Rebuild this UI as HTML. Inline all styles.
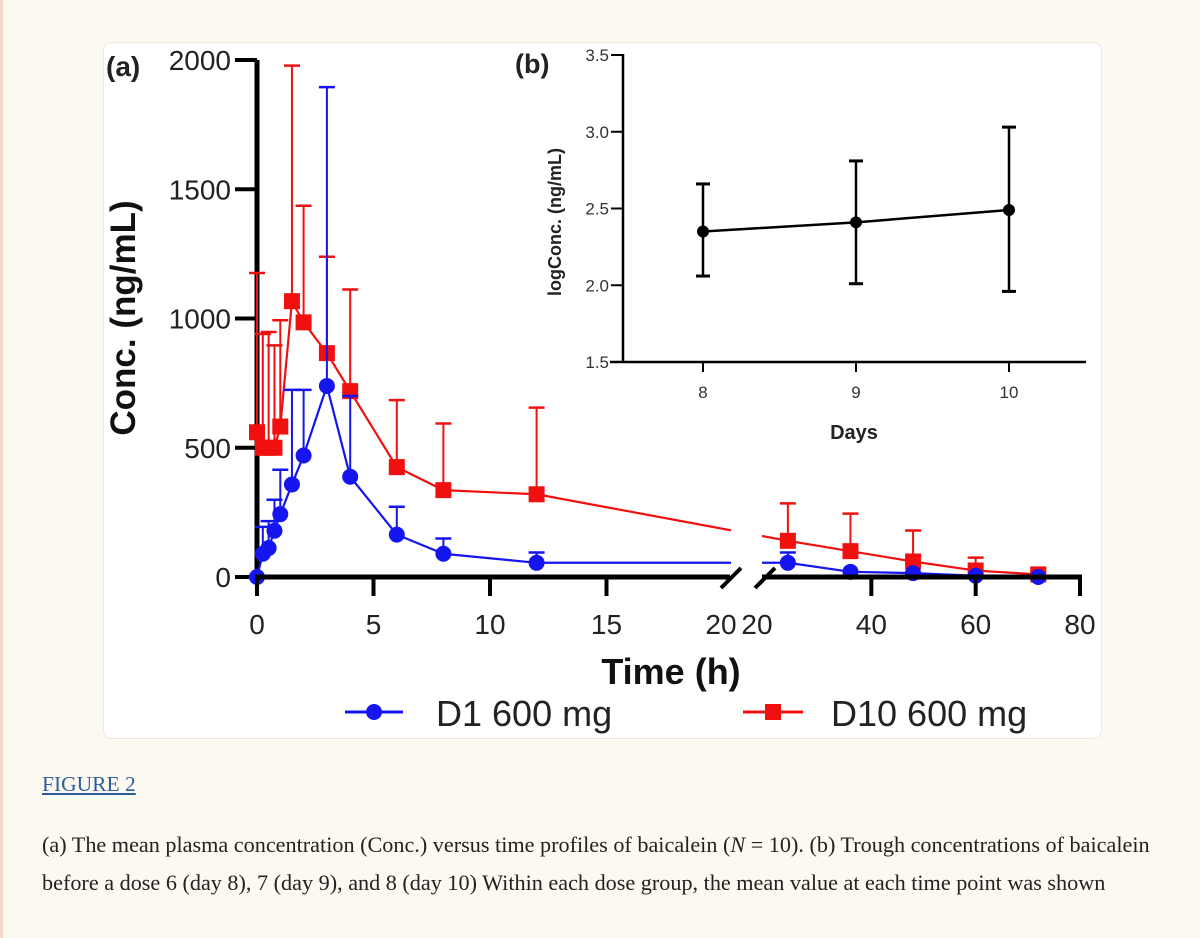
<!DOCTYPE html>
<html><head><meta charset="utf-8"><style>
html,body{margin:0;padding:0;}
body{width:1200px;height:938px;background:#fcf9f0;position:relative;overflow:hidden;font-family:"Liberation Sans",sans-serif;border-left:3px solid #f3d9cc;box-sizing:border-box;}
#card{position:absolute;left:100px;top:42px;width:997px;height:695px;background:#fff;border:1px solid #efe6dc;border-radius:8px;}
#fig{position:absolute;left:39px;top:772px;font-family:"Liberation Serif",serif;font-size:21.5px;color:#2b5d9c;text-decoration:underline;}
.cap{position:absolute;left:39px;font-family:"Liberation Serif",serif;font-size:22.2px;color:#222;white-space:nowrap;}
</style></head><body>
<div id="card"></div>
<svg id="chart" width="1200" height="938" style="position:absolute;left:0;top:0" xmlns="http://www.w3.org/2000/svg"></svg>
<a id="fig">FIGURE 2</a>
<div class="cap" style="top:832px">(a) The mean plasma concentration (Conc.) versus time profiles of baicalein (<i>N</i> = 10). (b) Trough concentrations of baicalein</div>
<div class="cap" style="top:870px">before a dose 6 (day 8), 7 (day 9), and 8 (day 10) Within each dose group, the mean value at each time point was shown</div>
<script>
const times=[0,0.25,0.5,0.75,1,1.5,2,3,4,6,8,12,24,36,48,60,72];
const d1Mean=[0,90,112,179,243,358,470,739,388,164,90,55,55,20,15,5,0];
const d1Upper=[0,194,216,299,415,724,724,1895,700,272,149,95,95,20,15,5,0];
const d10Mean=[560,500,500,500,582,1067,985,866,719,425,336,320,140,100,60,25,10];
const d10Upper=[1176,940,948,896,993,1978,1436,1239,1112,684,594,655,285,245,180,75,20];
const yTicks=[0,500,1000,1500,2000];
const xTicksLeft=[0,5,10,15,20];
const xTicksRight=[20,40,60,80];
const days=[8,9,10];
const logMean=[2.35,2.41,2.49];
const logLow=[2.06,2.01,1.96];
const logHigh=[2.66,2.81,3.03];
const logTicks=["1.5","2.0","2.5","3.0","3.5"];

const NS="http://www.w3.org/2000/svg";
const svg=document.getElementById('chart');
function mk(tag,attrs,parent){const e=document.createElementNS(NS,tag);for(const k in attrs)e.setAttribute(k,attrs[k]);(parent||svg).appendChild(e);return e;}
function txt(s,attrs){const e=mk('text',attrs);e.textContent=s;return e;}
const Y=v=>577-v*(517/2000);
const X=t=>t<=20?254+t*23.3:764+(t-20)*5.2167;
const XR=t=>764+(t-20)*5.2167;

let e=mk('line',{x1:254,y1:60,x2:254,y2:579,stroke:'#000','stroke-width':5});

yTicks.forEach(v=>{
  let t=mk('line',{x1:232,y1:Y(v),x2:254,y2:Y(v),stroke:'#000','stroke-width':4});
  
  let l=txt(String(v),{x:228,y:Y(v)+10,'text-anchor':'end','font-size':28,fill:'#222'});
  
});
e=txt('(a)',{x:103,y:76,'font-size':28,'font-weight':'bold',fill:'#222'});

e=txt('Conc. (ng/mL)',{x:0,y:0,'font-size':35,'font-weight':'bold',fill:'#111','text-anchor':'middle',transform:'translate(132,318) rotate(-90)'});


function series(mean,upper,color,name,shape){
  const g=mk('g',{});
  
  times.forEach((t,i)=>{
    if(upper[i]>mean[i]){
      mk('line',{x1:X(t),y1:Y(mean[i]),x2:X(t),y2:Y(upper[i]),stroke:color,'stroke-width':2},g);
      let c=mk('line',{x1:X(t)-8,y1:Y(upper[i]),x2:X(t)+8,y2:Y(upper[i]),stroke:color,'stroke-width':2.5},g);
      
    }
  });
  let pts=times.map((t,i)=>X(t)+','+Y(mean[i])).join(' ');
  let pl=mk('polyline',{points:pts,fill:'none',stroke:color,'stroke-width':2.2},g);
  
  times.forEach((t,i)=>{
    let m;
    if(shape=='c') m=mk('circle',{cx:X(t),cy:Y(mean[i]),r:8,fill:color},g);
    else m=mk('rect',{x:X(t)-8,y:Y(mean[i])-8,width:16,height:16,fill:color},g);
    
  });
}
series(d10Mean,d10Upper,'#f01010','d10-series','s');
series(d1Mean,d1Upper,'#1515f0','d1-series','c');
e=mk('rect',{x:728,y:400,width:31,height:174,fill:'#fff'});


e=mk('line',{x1:252,y1:577,x2:727,y2:577,stroke:'#000','stroke-width':5});

e=mk('line',{x1:759,y1:577,x2:1079,y2:577,stroke:'#000','stroke-width':5});

[[718,588,738,568],[752,588,772,568]].forEach(p=>{
  let b=mk('line',{x1:p[0],y1:p[1],x2:p[2],y2:p[3],stroke:'#000','stroke-width':4});
  
});
xTicksLeft.forEach(v=>{
  if(v<20){let t=mk('line',{x1:X(v),y1:577,x2:X(v),y2:596,stroke:'#000','stroke-width':4});
  }
  let l=txt(String(v),{x:X(v)+(v==20?-2:0),y:634,'text-anchor':'middle','font-size':28,fill:'#222'});
  
});
xTicksRight.forEach(v=>{
  if(v>20){let t=mk('line',{x1:XR(v),y1:577,x2:XR(v),y2:596,stroke:'#000','stroke-width':4});
  }
  let l=txt(String(v),{x:XR(v)+(v==20?-10:0),y:634,'text-anchor':'middle','font-size':28,fill:'#222'});
  
});
e=txt('Time (h)',{x:668,y:684,'text-anchor':'middle','font-size':36,'font-weight':'bold',fill:'#111'});


e=mk('line',{x1:342,y1:712,x2:400,y2:712,stroke:'#1515f0','stroke-width':3});

e=mk('circle',{cx:371,cy:712,r:8,fill:'#1515f0'});

e=txt('D1 600 mg',{x:433,y:726,'font-size':36,fill:'#222'});

e=mk('line',{x1:740,y1:712,x2:800,y2:712,stroke:'#f01010','stroke-width':3});

e=mk('rect',{x:762,y:704,width:16,height:16,fill:'#f01010'});

e=txt('D10 600 mg',{x:828,y:726,'font-size':36,fill:'#222'});


// inset (b)
const IY=v=>362-(v-1.5)*(307/2);
const IX=d=>700+(d-8)*153;
e=mk('line',{x1:620,y1:54,x2:620,y2:362,stroke:'#000','stroke-width':2.5});

e=mk('line',{x1:607,y1:362,x2:1083,y2:362,stroke:'#000','stroke-width':2.5});

logTicks.forEach(s=>{
  const v=parseFloat(s);
  let t=mk('line',{x1:608,y1:IY(v),x2:620,y2:IY(v),stroke:'#000','stroke-width':2});
  
  let l=txt(s,{x:606,y:IY(v)+6,'text-anchor':'end','font-size':17,fill:'#333'});
  
});
days.forEach(d=>{
  let t=mk('line',{x1:IX(d),y1:362,x2:IX(d),y2:372,stroke:'#000','stroke-width':2});
  
  let l=txt(String(d),{x:IX(d),y:398,'text-anchor':'middle','font-size':17,fill:'#333'});
  
});
e=txt('(b)',{x:512,y:73,'font-size':27,'font-weight':'bold',fill:'#222'});

e=txt('logConc. (ng/mL)',{x:0,y:0,'font-size':18,'font-weight':'bold',fill:'#222','text-anchor':'middle',transform:'translate(558,222) rotate(-90)'});

e=txt('Days',{x:851,y:439,'text-anchor':'middle','font-size':20,'font-weight':'bold',fill:'#222'});

days.forEach((d,i)=>{
  let b=mk('line',{x1:IX(d),y1:IY(logLow[i]),x2:IX(d),y2:IY(logHigh[i]),stroke:'#000','stroke-width':2.5});
  
  [logLow[i],logHigh[i]].forEach(v=>{
    let c=mk('line',{x1:IX(d)-7,y1:IY(v),x2:IX(d)+7,y2:IY(v),stroke:'#000','stroke-width':3});
    
  });
});
e=mk('polyline',{points:days.map((d,i)=>IX(d)+','+IY(logMean[i])).join(' '),fill:'none',stroke:'#000','stroke-width':2.5});

days.forEach((d,i)=>{
  let m=mk('circle',{cx:IX(d),cy:IY(logMean[i]),r:6,fill:'#000'});
  
});
</script>
</body></html>
